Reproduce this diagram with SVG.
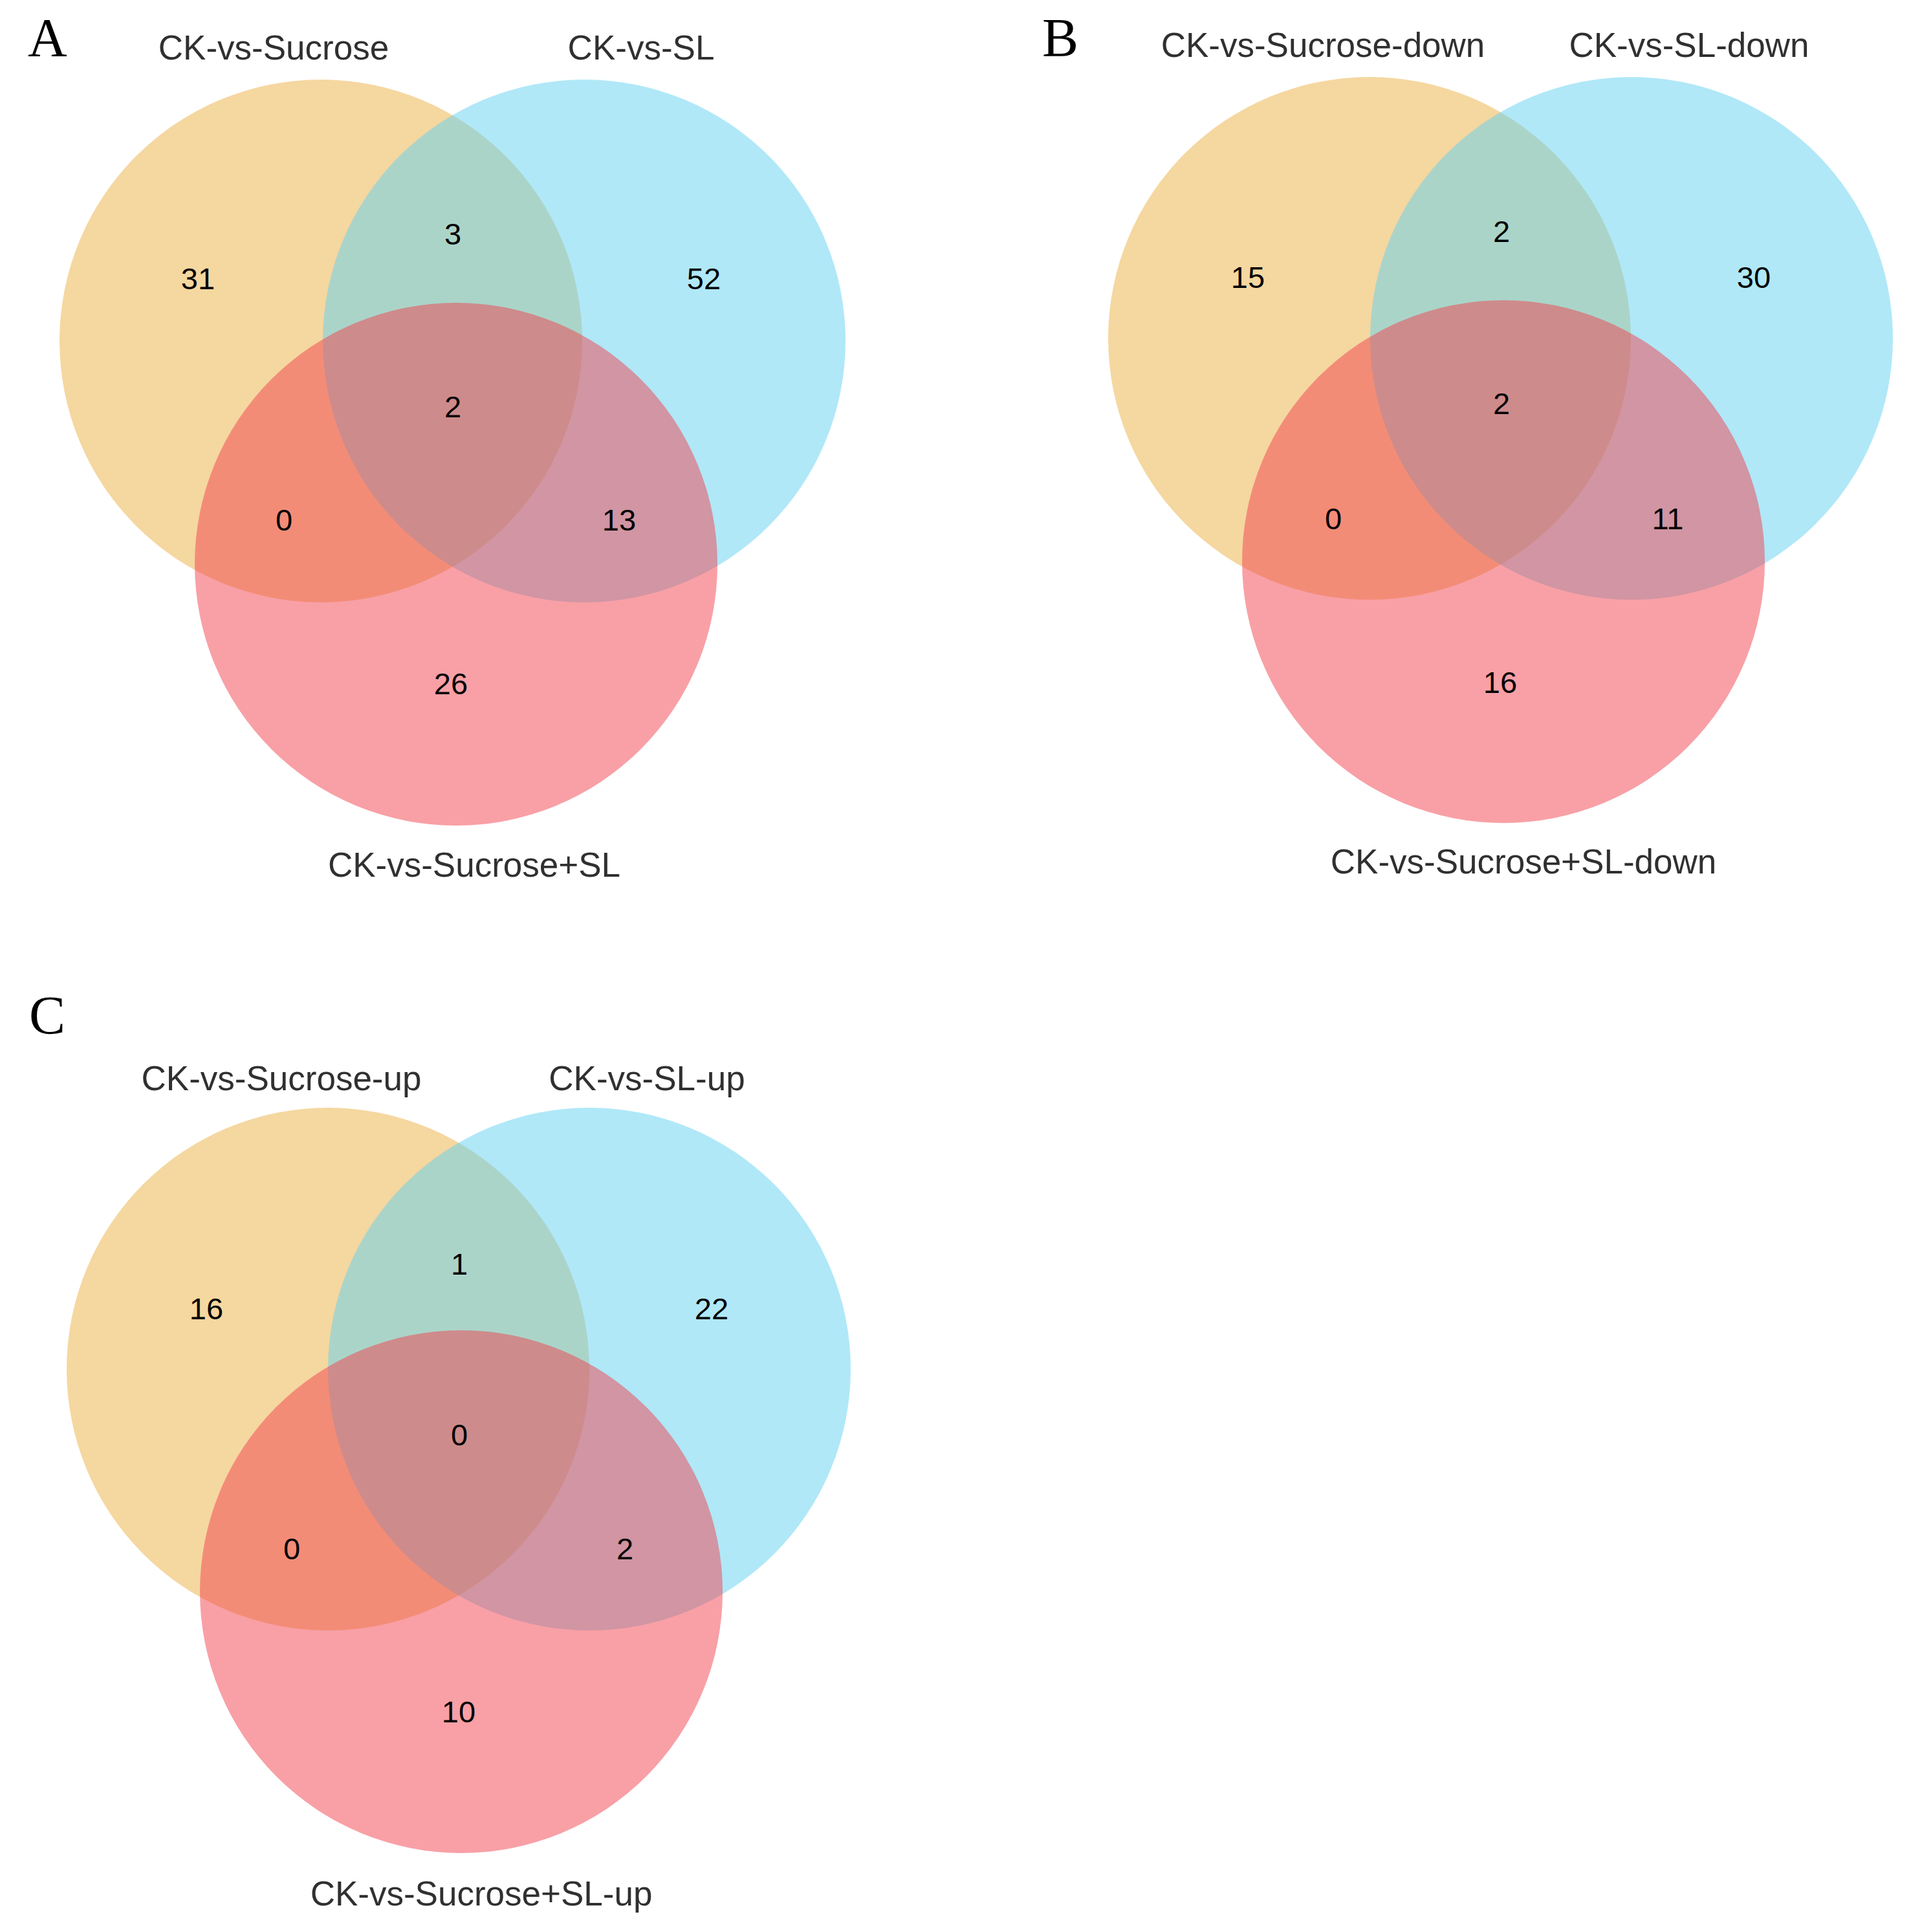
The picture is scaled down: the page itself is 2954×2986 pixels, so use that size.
<svg xmlns="http://www.w3.org/2000/svg" width="2954" height="2986" viewBox="0 0 2954 2986">
<style>
.o{fill:#EBAF41;fill-opacity:0.5}
.b{fill:#61D1F1;fill-opacity:0.5}
.r{fill:#F1414D;fill-opacity:0.5}
.lab{font-family:"Liberation Sans",Arial,sans-serif;font-size:53px;fill:#303030;text-anchor:middle}
.num{font-family:"Liberation Sans",Arial,sans-serif;font-size:47px;fill:#000;text-anchor:middle}
.pl{font-family:"Liberation Serif","Times New Roman",serif;font-size:84px;fill:#000}
</style>
<rect width="2954" height="2986" fill="#fff"/>
<g id="panelA">
<text class="pl" x="43" y="87">A</text>
<g id="A-set1"><circle class="o" cx="496" cy="527" r="404"/><text class="lab" x="423" y="92">CK-vs-Sucrose</text></g>
<g id="A-set2"><circle class="b" cx="903" cy="527" r="404"/><text class="lab" x="991" y="92">CK-vs-SL</text></g>
<g id="A-set3"><circle class="r" cx="705" cy="872" r="404"/><text class="lab" x="733" y="1355">CK-vs-Sucrose+SL</text></g>
<g id="A-counts">
<text class="num" x="700" y="378">3</text>
<text class="num" x="306" y="447">31</text>
<text class="num" x="1088" y="447">52</text>
<text class="num" x="700" y="645">2</text>
<text class="num" x="439" y="820">0</text>
<text class="num" x="957" y="820">13</text>
<text class="num" x="697" y="1073">26</text>
</g>
</g>
<g id="panelB">
<text class="pl" x="1611" y="87">B</text>
<g id="B-set1"><circle class="o" cx="2117" cy="523" r="404"/><text class="lab" x="2045" y="88">CK-vs-Sucrose-down</text></g>
<g id="B-set2"><circle class="b" cx="2522" cy="523" r="404"/><text class="lab" x="2611" y="88">CK-vs-SL-down</text></g>
<g id="B-set3"><circle class="r" cx="2324" cy="868" r="404"/><text class="lab" x="2355" y="1350">CK-vs-Sucrose+SL-down</text></g>
<g id="B-counts">
<text class="num" x="2321" y="374">2</text>
<text class="num" x="1929" y="445">15</text>
<text class="num" x="2711" y="445">30</text>
<text class="num" x="2321" y="640">2</text>
<text class="num" x="2061" y="818">0</text>
<text class="num" x="2578" y="818">11</text>
<text class="num" x="2319" y="1071">16</text>
</g>
</g>
<g id="panelC">
<text class="pl" x="45" y="1598">C</text>
<g id="C-set1"><circle class="o" cx="507" cy="2116" r="404"/><text class="lab" x="435" y="1685">CK-vs-Sucrose-up</text></g>
<g id="C-set2"><circle class="b" cx="911" cy="2116" r="404"/><text class="lab" x="1000" y="1685">CK-vs-SL-up</text></g>
<g id="C-set3"><circle class="r" cx="713" cy="2460" r="404"/><text class="lab" x="744" y="2945">CK-vs-Sucrose+SL-up</text></g>
<g id="C-counts">
<text class="num" x="710" y="1970">1</text>
<text class="num" x="319" y="2039">16</text>
<text class="num" x="1100" y="2039">22</text>
<text class="num" x="710" y="2234">0</text>
<text class="num" x="451" y="2410">0</text>
<text class="num" x="966" y="2410">2</text>
<text class="num" x="709" y="2662">10</text>
</g>
</g>
<g id="connectors"/>
</svg>
